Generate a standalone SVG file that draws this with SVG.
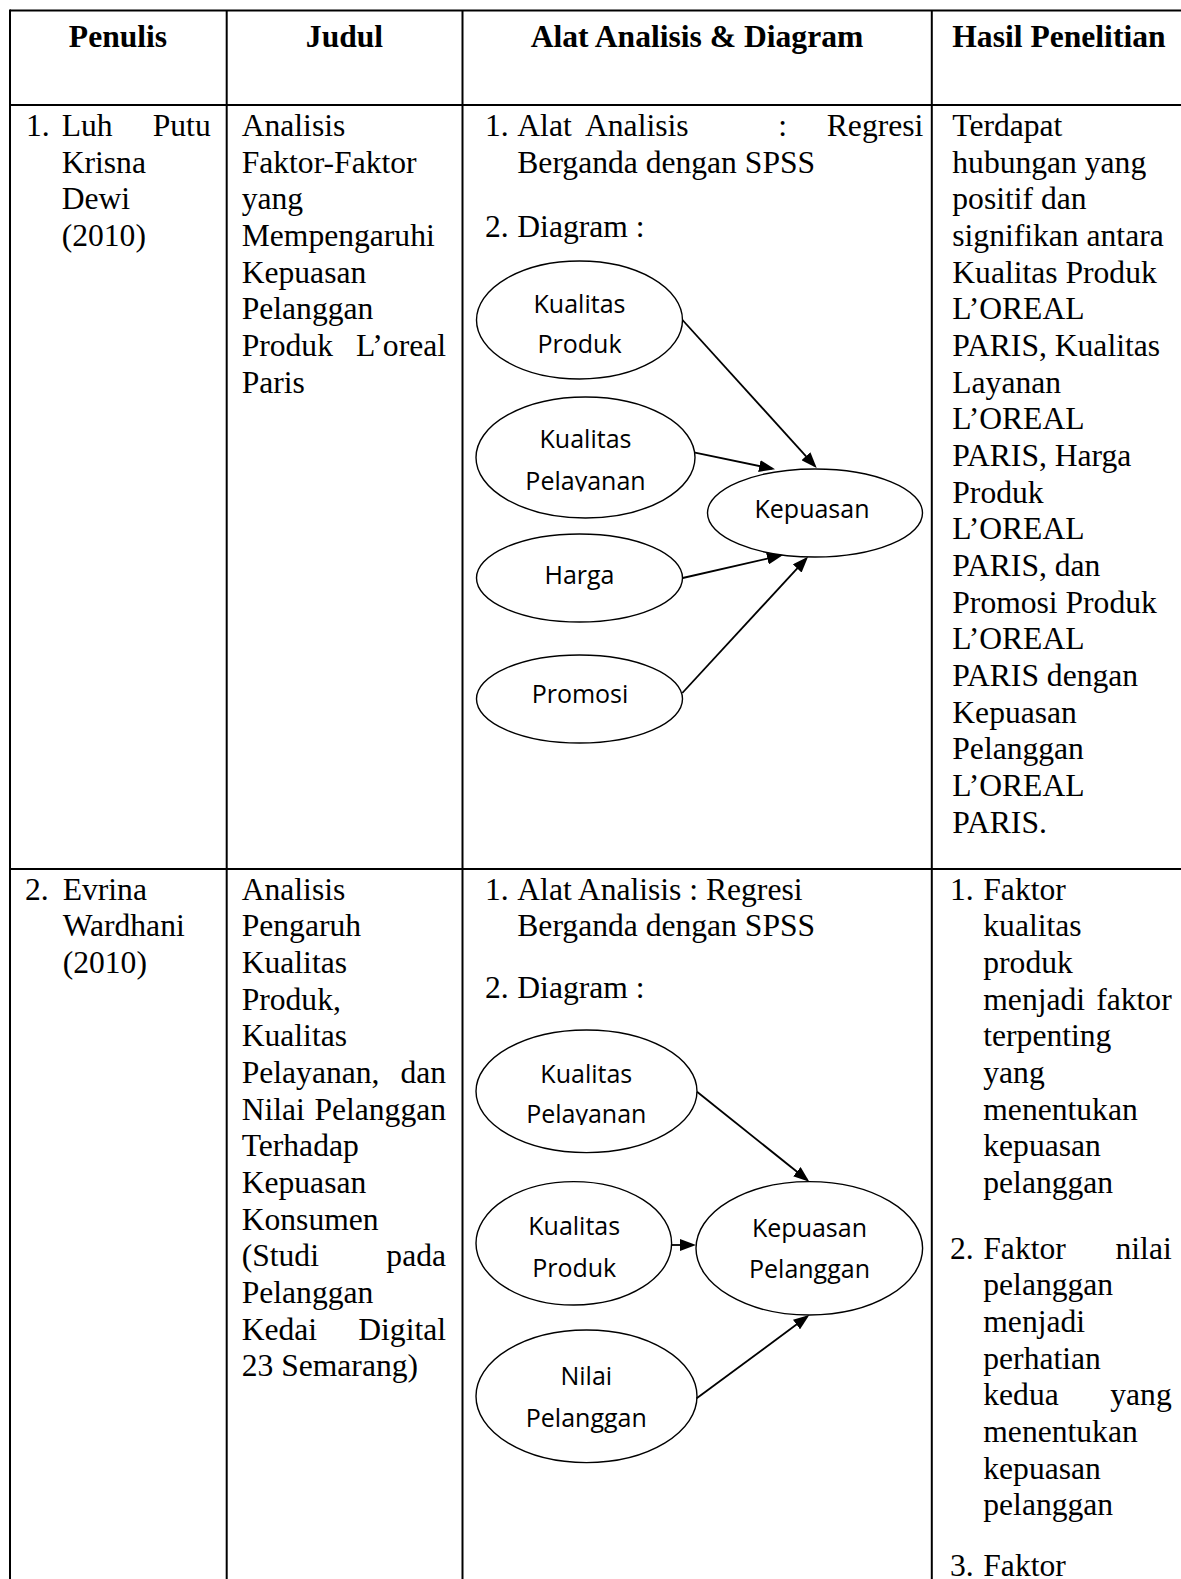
<svg xmlns="http://www.w3.org/2000/svg" width="1181" height="1579" viewBox="0 0 1181 1579">
<style>
.t{font-family:"Liberation Serif","Times New Roman",serif;font-size:31.6px;fill:#000}
.h{font-family:"Liberation Serif","Times New Roman",serif;font-size:31.6px;font-weight:bold;fill:#000}
.grid{stroke:#000;stroke-width:2;fill:none}
.node ellipse{fill:#fff;stroke:#000;stroke-width:1.4}
.node text{font-family:"Open Sans","Noto Sans",sans-serif;font-size:25px;fill:#000;text-anchor:middle}
.conn line{stroke:#000;stroke-width:1.8}
</style>
<defs>
<marker id="ah" viewBox="0 0 16 12" refX="13" refY="6" markerWidth="16" markerHeight="12" markerUnits="userSpaceOnUse" orient="auto">
<path d="M0,0 L16,6 L0,12 z" fill="#000"/>
</marker>
<clipPath id="c1"><rect x="470" y="380" width="240" height="111.5"/></clipPath>
<clipPath id="c2"><rect x="470" y="1020" width="240" height="105"/></clipPath>
</defs>
<rect width="1181" height="1579" fill="#fff"/>
<g id="grid" class="grid">
<line x1="10" y1="10.5" x2="1181" y2="10.5"/>
<line x1="10" y1="9.5" x2="10" y2="1579"/>
<line x1="226.7" y1="10" x2="226.7" y2="1579"/>
<line x1="462.5" y1="10" x2="462.5" y2="1579"/>
<line x1="931.8" y1="10" x2="931.8" y2="1579"/>
<line x1="10" y1="105" x2="1181" y2="105"/>
<line x1="10" y1="869" x2="1181" y2="869"/>
</g>
<g id="header">
<text class="h" x="118" y="47" text-anchor="middle">Penulis</text>
<text class="h" x="344.5" y="47" text-anchor="middle">Judul</text>
<text class="h" x="697" y="47" text-anchor="middle">Alat Analisis &amp; Diagram</text>
<text class="h" x="952.3" y="47">Hasil Penelitian</text>
</g>
<g id="row1-penulis" class="t">
<text x="26" y="136">1.</text>
<text x="61.7" y="136">Luh</text>
<text x="210.7" y="136" text-anchor="end">Putu</text>
<text x="61.7" y="172.7">Krisna</text>
<text x="61.7" y="209.3">Dewi</text>
<text x="61.7" y="246">(2010)</text>
</g>
<g id="row1-judul" class="t">
<text x="241.7" y="136">Analisis</text>
<text x="241.7" y="172.7">Faktor-Faktor</text>
<text x="241.7" y="209.3">yang</text>
<text x="241.7" y="246">Mempengaruhi</text>
<text x="241.7" y="282.7">Kepuasan</text>
<text x="241.7" y="319.3">Pelanggan</text>
<text x="241.7" y="356">Produk</text>
<text x="446" y="356" text-anchor="end">L’oreal</text>
<text x="241.7" y="392.7">Paris</text>
</g>
<g id="row1-alat" class="t">
<text x="485" y="136">1.</text>
<text x="517.3" y="136">Alat</text>
<text x="585" y="136">Analisis</text>
<text x="778.3" y="136">:</text>
<text x="923.3" y="136" text-anchor="end">Regresi</text>
<text x="517.3" y="172.7">Berganda dengan SPSS</text>
<text x="485" y="236.5">2.</text>
<text x="517.3" y="236.5">Diagram :</text>
</g>
<g id="row1-hasil" class="t">
<text x="952.3" y="136">Terdapat</text>
<text x="952.3" y="172.7">hubungan yang</text>
<text x="952.3" y="209.3">positif dan</text>
<text x="952.3" y="246">signifikan antara</text>
<text x="952.3" y="282.7">Kualitas Produk</text>
<text x="952.3" y="319.3">L’OREAL</text>
<text x="952.3" y="356">PARIS, Kualitas</text>
<text x="952.3" y="392.7">Layanan</text>
<text x="952.3" y="429.3">L’OREAL</text>
<text x="952.3" y="466">PARIS, Harga</text>
<text x="952.3" y="502.7">Produk</text>
<text x="952.3" y="539.3">L’OREAL</text>
<text x="952.3" y="576">PARIS, dan</text>
<text x="952.3" y="612.7">Promosi Produk</text>
<text x="952.3" y="649.3">L’OREAL</text>
<text x="952.3" y="686">PARIS dengan</text>
<text x="952.3" y="722.7">Kepuasan</text>
<text x="952.3" y="759.3">Pelanggan</text>
<text x="952.3" y="796">L’OREAL</text>
<text x="952.3" y="832.7">PARIS.</text>
</g>
<g id="n1-kualitas-produk" class="node">
<ellipse cx="579.5" cy="320" rx="103" ry="59"/>
<text x="579.5" y="313">Kualitas</text>
<text x="579.5" y="352.5">Produk</text>
</g>
<g id="n1-kualitas-pelayanan" class="node">
<ellipse cx="585.5" cy="457.5" rx="109.5" ry="60.5"/>
<g clip-path="url(#c1)">
<text x="585.5" y="448.3">Kualitas</text>
<text x="585.5" y="490">Pelayanan</text>
</g>
</g>
<g id="n1-kepuasan" class="node">
<ellipse cx="815" cy="513" rx="107.5" ry="44"/>
<text x="812" y="518.3">Kepuasan</text>
</g>
<g id="n1-harga" class="node">
<ellipse cx="579.5" cy="578" rx="103" ry="44"/>
<text x="579.5" y="583.5">Harga</text>
</g>
<g id="n1-promosi" class="node">
<ellipse cx="579.5" cy="699" rx="103" ry="44"/>
<text x="580" y="703">Promosi</text>
</g>
<g id="connectors-1" class="conn">
<line x1="682.5" y1="320" x2="814.7" y2="465.8" marker-end="url(#ah)"/>
<line x1="695" y1="452.7" x2="772.1" y2="468.7" marker-end="url(#ah)"/>
<line x1="682.7" y1="578" x2="780.1" y2="555.7" marker-end="url(#ah)"/>
<line x1="682.3" y1="693" x2="806" y2="558.9" marker-end="url(#ah)"/>
</g>
<g id="row2-penulis" class="t">
<text x="25" y="899.7">2.</text>
<text x="62.7" y="899.7">Evrina</text>
<text x="62.7" y="936.3">Wardhani</text>
<text x="62.7" y="973">(2010)</text>
</g>
<g id="row2-judul" class="t">
<text x="241.7" y="899.7">Analisis</text>
<text x="241.7" y="936.3">Pengaruh</text>
<text x="241.7" y="973">Kualitas</text>
<text x="241.7" y="1009.7">Produk,</text>
<text x="241.7" y="1046.3">Kualitas</text>
<text x="241.7" y="1083">Pelayanan,</text>
<text x="446" y="1083" text-anchor="end">dan</text>
<text x="241.7" y="1119.7">Nilai</text>
<text x="446" y="1119.7" text-anchor="end">Pelanggan</text>
<text x="241.7" y="1156.3">Terhadap</text>
<text x="241.7" y="1193">Kepuasan</text>
<text x="241.7" y="1229.7">Konsumen</text>
<text x="241.7" y="1266.3">(Studi</text>
<text x="446" y="1266.3" text-anchor="end">pada</text>
<text x="241.7" y="1303">Pelanggan</text>
<text x="241.7" y="1339.7">Kedai</text>
<text x="446" y="1339.7" text-anchor="end">Digital</text>
<text x="241.7" y="1376.3">23 Semarang)</text>
</g>
<g id="row2-alat" class="t">
<text x="485" y="899.7">1.</text>
<text x="517.3" y="899.7">Alat Analisis : Regresi</text>
<text x="517.3" y="936.3">Berganda dengan SPSS</text>
<text x="485" y="998">2.</text>
<text x="517.3" y="998">Diagram :</text>
</g>
<g id="row2-hasil" class="t">
<text x="950" y="899.7">1.</text>
<text x="983.3" y="899.7">Faktor</text>
<text x="983.3" y="936.3">kualitas</text>
<text x="983.3" y="973">produk</text>
<text x="983.3" y="1009.7">menjadi</text>
<text x="1171.7" y="1009.7" text-anchor="end">faktor</text>
<text x="983.3" y="1046.3">terpenting</text>
<text x="983.3" y="1083">yang</text>
<text x="983.3" y="1119.7">menentukan</text>
<text x="983.3" y="1156.3">kepuasan</text>
<text x="983.3" y="1193">pelanggan</text>
<text x="950" y="1258.5">2.</text>
<text x="983.3" y="1258.5">Faktor</text>
<text x="1171.7" y="1258.5" text-anchor="end">nilai</text>
<text x="983.3" y="1295.2">pelanggan</text>
<text x="983.3" y="1331.8">menjadi</text>
<text x="983.3" y="1368.5">perhatian</text>
<text x="983.3" y="1405.2">kedua</text>
<text x="1171.7" y="1405.2" text-anchor="end">yang</text>
<text x="983.3" y="1441.8">menentukan</text>
<text x="983.3" y="1478.5">kepuasan</text>
<text x="983.3" y="1515.2">pelanggan</text>
<text x="950" y="1576">3.</text>
<text x="983.3" y="1576">Faktor</text>
</g>
<g id="n2-kualitas-pelayanan" class="node">
<ellipse cx="586.5" cy="1091.3" rx="110.5" ry="61.3"/>
<g clip-path="url(#c2)">
<text x="586.3" y="1083.3">Kualitas</text>
<text x="586.3" y="1123.3">Pelayanan</text>
</g>
</g>
<g id="n2-kualitas-produk" class="node">
<ellipse cx="573.8" cy="1243.3" rx="97.8" ry="61.7"/>
<text x="574.2" y="1235">Kualitas</text>
<text x="574.2" y="1276.7">Produk</text>
</g>
<g id="n2-kepuasan-pelanggan" class="node">
<ellipse cx="809.3" cy="1248.3" rx="113.3" ry="66.7"/>
<text x="809.5" y="1236.7">Kepuasan</text>
<text x="809.5" y="1278.3">Pelanggan</text>
</g>
<g id="n2-nilai-pelanggan" class="node">
<ellipse cx="586.5" cy="1396.3" rx="110.5" ry="66.3"/>
<text x="586.3" y="1385">Nilai</text>
<text x="586.3" y="1426.7">Pelanggan</text>
</g>
<g id="connectors-2" class="conn">
<line x1="697" y1="1091.7" x2="807" y2="1179.8" marker-end="url(#ah)"/>
<line x1="671.7" y1="1245" x2="693" y2="1245" marker-end="url(#ah)"/>
<line x1="696.7" y1="1398.3" x2="806.9" y2="1316.8" marker-end="url(#ah)"/>
</g>
</svg>
